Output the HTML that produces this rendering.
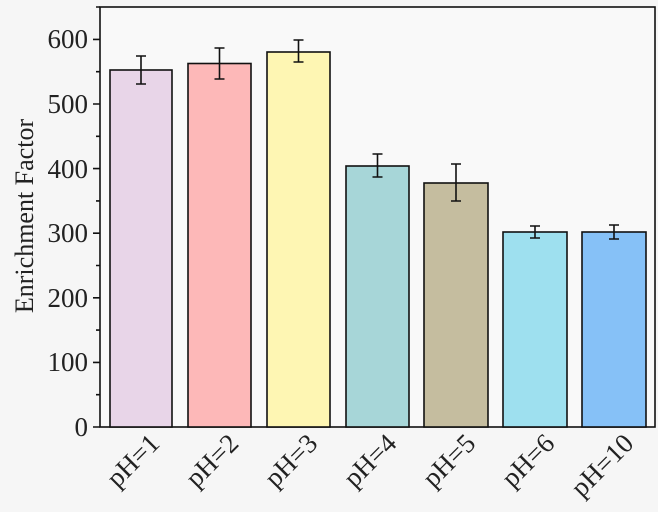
<!DOCTYPE html>
<html><head><style>body{margin:0;background:#fff} svg{font-family:"Liberation Serif",serif}</style></head><body>
<svg width="670" height="515" xmlns="http://www.w3.org/2000/svg">
<rect x="0" y="0" width="658" height="512" fill="#f6f6f6"/>
<rect x="100" y="7" width="555" height="420" fill="#f9f9f9" stroke="#111" stroke-width="1.6"/>
<g stroke="#111" stroke-width="1.6">
<rect x="110" y="70" width="62" height="357" fill="#e8d5e8"/>
<rect x="188" y="63.5" width="63" height="363.5" fill="#fdb8b8"/>
<rect x="267" y="52" width="63" height="375" fill="#fef6b3"/>
<rect x="346" y="166" width="63" height="261" fill="#a7d6d8"/>
<rect x="424" y="183" width="64" height="244" fill="#c5bd9f"/>
<rect x="503" y="232" width="64" height="195" fill="#9ee0ef"/>
<rect x="582" y="232" width="64" height="195" fill="#86c1f7"/>
<path d="M141 56V84M136 56h10M136 84h10 M219.5 48V79M214.5 48h10M214.5 79h10 M298.5 40V62M293.5 40h10M293.5 62h10 M377.5 154V177M372.5 154h10M372.5 177h10 M456 164V201M451 164h10M451 201h10 M535 226V238M530 226h10M530 238h10 M614 225V239M609 225h10M609 239h10" fill="none"/>
<path d="M93 427h7M93 362.4h7M93 297.8h7M93 233.2h7M93 168.6h7M93 104h7M93 39.4h7 M96 394.7h4M96 330.1h4M96 265.5h4M96 200.9h4M96 136.3h4M96 71.7h4M96 7h4"/>
</g>
<g font-size="27" fill="#222" text-anchor="end">
<text x="88" y="436">0</text><text x="88" y="371">100</text><text x="88" y="307">200</text><text x="88" y="242">300</text><text x="88" y="178">400</text><text x="88" y="113">500</text><text x="88" y="48">600</text>
</g>
<text transform="translate(33,216) rotate(-90)" font-size="26" fill="#222" text-anchor="middle">Enrichment Factor</text>
<g font-size="27" fill="#222" text-anchor="end">
<text transform="translate(161,445) rotate(-45)">pH=1</text>
<text transform="translate(240,445) rotate(-45)">pH=2</text>
<text transform="translate(319,445) rotate(-45)">pH=3</text>
<text transform="translate(398,445) rotate(-45)">pH=4</text>
<text transform="translate(477,445) rotate(-45)">pH=5</text>
<text transform="translate(556,445) rotate(-45)">pH=6</text>
<text transform="translate(635,445) rotate(-45)">pH=10</text>
</g>
</svg>
</body></html>
